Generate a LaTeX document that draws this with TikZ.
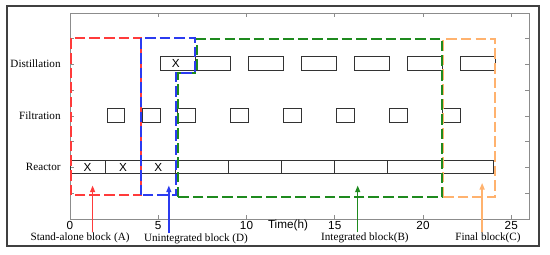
\documentclass[tikz,border=0pt]{standalone}
\usepackage{fontspec}
\setmainfont{Liberation Serif}
\setsansfont{Liberation Sans}
\usepackage{tikz}
\usetikzlibrary{arrows.meta,positioning}
\definecolor{blkred}   {HTML}{FF3B3B}
\definecolor{blkblue}  {HTML}{2B3BF0}
\definecolor{blkgreen} {HTML}{1E8A1E}
\definecolor{blkorange}{HTML}{FFB26E}
\definecolor{axgray}   {HTML}{8C8C8C}
\tikzset{
  task/.style={draw=black!80,line width=0.8pt},
  blk/.style={line width=1.6pt,dash pattern=on 9pt off 3.5pt},
  tag/.style={font=\fontsize{9.5}{10}\selectfont,inner sep=0pt},
  lane/.style={font=\fontsize{9.5}{10}\selectfont,anchor=east},
  ticklbl/.style={font=\sffamily\fontsize{10}{11}\selectfont},
  pointer/.style={line width=1.2pt,-{Triangle[length=2mm,width=1.5mm]}}
}

\begin{document}
\begin{tikzpicture}[x=0.5295cm,y=0.7725cm]
        \useasboundingbox (-3.966,-1.359) rectangle (27.195,8.505);
        % frame
        \draw[black!75,line width=1.4pt] (-3.57,-1.05) rectangle (26.57,8.27);
        % axes
        \draw[axgray,line width=0.6pt] (0,0) rectangle (26,8);
        \foreach \t in {5,10,15,20,25} {
          \draw[axgray,line width=0.6pt] (\t,0) -- (\t,0.15);
          \draw[axgray,line width=0.6pt] (\t,8) -- (\t,7.85);
        }
        \foreach \r in {1,...,7} {
          \draw[axgray,line width=0.6pt] (0,\r) -- (0.23,\r);
          \draw[axgray,line width=0.6pt] (26,\r) -- (25.77,\r);
        }
        \node[ticklbl] (t0)  at (0,-0.27)  {0};
        \node[ticklbl] (t5)  at (5,-0.27)  {5};
        \node[ticklbl] (t10) at (10,-0.27) {10};
        \node[ticklbl] (t15) at (15,-0.27) {15};
        \node[ticklbl] (t20) at (20,-0.27) {20};
        \node[ticklbl] (t25) at (25,-0.27) {25};
        \node[ticklbl] (time) at (12.35,-0.27) {Time(h)};
        % lanes
        \node[lane] (distil) at (-0.3,6.02) {Distillation};
        \node[lane] (filtr)  at (-0.3,4.0)  {Filtration};
        \node[lane] (react)  at (-0.3,2.03) {Reactor};
        % Reactor bar
        \draw[task] (0,1.75) rectangle (24,2.27);
        \foreach \d in {2,4,6,9,12,15,18}
          \draw[task] (\d,1.75) -- (\d,2.27);
        \node[ticklbl] (xa) at (1,2.01) {X};
        \node[ticklbl] (xb) at (3,2.01) {X};
        \node[ticklbl] (xc) at (5,2.01) {X};
        % Filtration boxes
        \foreach \s in {2.1,4.1,6.1,9.1,12.1,15.1,18.1,21.1}
          \draw[task] (\s,3.73) rectangle ++(1,0.55);
        % Distillation boxes
        \foreach \s in {5.1,7.1,10.1,13.1,16.1,19.1,22.1}
          \draw[task] (\s,5.76) rectangle ++(2,0.57);
        \node[ticklbl] (xd) at (6.0,6.04) {X};
        % blocks
        \draw[blk,blkorange] (21.15,0.85) rectangle (24.1,6.99);
        \draw[blk,blkgreen] (6.1,0.85) -- (6.1,5.66) -- (7.18,5.66) -- (7.18,6.99)
              -- (21.1,6.99) -- (21.1,0.85) -- cycle;
        \draw[blk,blkred] (0.04,0.92) rectangle (4.0,7.02);
        \draw[blk,blkblue] (4.02,0.92) -- (4.02,7.02) -- (7.08,7.02) -- (7.08,5.68)
              -- (6.0,5.68) -- (6.0,0.92) -- cycle;
        % block labels
        \node[tag] (labA) at (0.57,-0.72)  {Stand-alone block (A)};
        \node[tag] (labD) at (7.14,-0.76)  {Unintegrated block (D)};
        \node[tag] (labB) at (16.71,-0.72) {Integrated block(B)};
        \node[tag] (labC) at (23.68,-0.72) {Final block(C)};
        \coordinate (tipA) at (1.28,1.3);
        \coordinate (tipD) at (5.6,1.3);
        \coordinate (tipB) at (16.3,1.3);
        \coordinate (tipC) at (23.35,1.4);
        \draw[pointer,blkred]    (labA.north -| tipA) -- (tipA);
        \draw[pointer,blkblue]   (labD.north -| tipD) -- (tipD);
        \draw[pointer,blkgreen]  (labB.north -| tipB) -- (tipB);
        \draw[pointer,blkorange] (labC.north -| tipC) -- (tipC);
      \end{tikzpicture}
\end{document}
